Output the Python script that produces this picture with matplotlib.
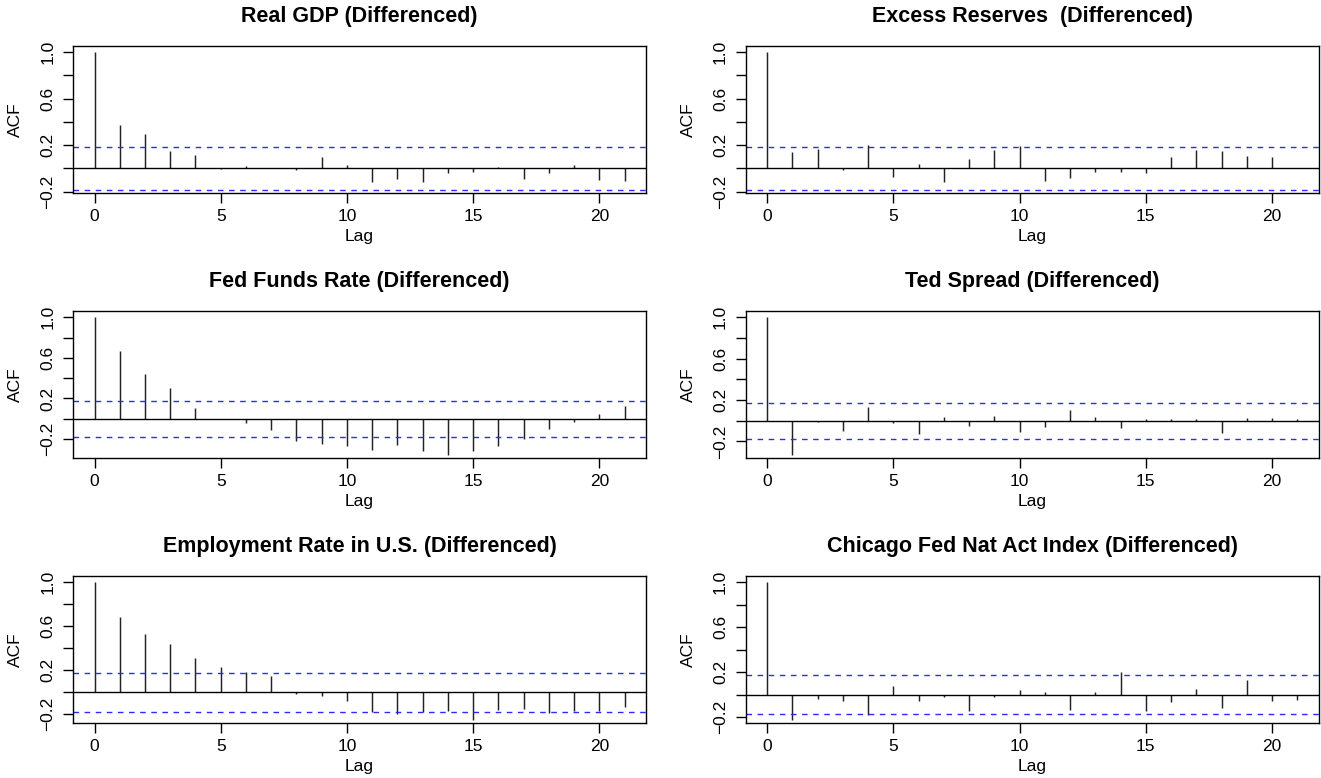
import matplotlib
matplotlib.use("Agg")
import matplotlib.pyplot as plt
import numpy as np

plt.rcParams['font.family'] = ['Liberation Sans', 'DejaVu Sans']

lags = list(range(22))

titles = [
    "Real GDP (Differenced)",
    "Excess Reserves  (Differenced)",
    "Fed Funds Rate (Differenced)",
    "Ted Spread (Differenced)",
    "Employment Rate in U.S. (Differenced)",
    "Chicago Fed Nat Act Index (Differenced)",
]

acf_gdp = [1.0, 0.377, 0.296, 0.153, 0.118, -0.005, 0.02, 0.0, -0.015, 0.095, 0.03,
           -0.12, -0.09, -0.12, -0.04, -0.03, 0.015, -0.09, -0.04, 0.03, -0.10, -0.105]
acf_reserves = [1.0, 0.138, 0.17, -0.01, 0.2, -0.07, 0.035, -0.115, 0.08, 0.155, 0.19,
                -0.105, -0.085, -0.03, -0.03, -0.035, 0.10, 0.155, 0.147, 0.105, 0.095, 0.0]
acf_fedfunds = [1.0, 0.665, 0.437, 0.30, 0.11, -0.005, -0.04, -0.11, -0.215, -0.245, -0.27,
                -0.31, -0.255, -0.32, -0.355, -0.32, -0.27, -0.20, -0.105, -0.03, 0.05, 0.125]
acf_ted = [1.0, -0.33, -0.01, -0.10, 0.13, -0.02, -0.13, 0.04, -0.05, 0.05, -0.11,
           -0.06, 0.105, 0.04, -0.07, 0.012, 0.02, 0.012, -0.12, 0.03, 0.03, 0.012]
acf_employment = [1.0, 0.687, 0.526, 0.44, 0.313, 0.231, 0.185, 0.152, -0.012, -0.03, -0.08,
                  -0.175, -0.20, -0.175, -0.17, -0.25, -0.158, -0.15, -0.19, -0.173, -0.167, -0.134]
acf_chicago = [1.0, -0.225, -0.04, -0.055, -0.18, 0.077, -0.053, -0.018, -0.142, -0.018, 0.043,
               0.024, -0.133, 0.024, 0.203, -0.142, -0.068, 0.052, -0.116, 0.13, -0.06, -0.045]

conf_limits = [0.184, 0.184, 0.178, 0.174, 0.179, 0.177]

series = [acf_gdp, acf_reserves, acf_fedfunds, acf_ted, acf_employment, acf_chicago]

W, H = 1321, 778
fig = plt.figure(figsize=(W / 100, H / 100), dpi=100)

col_left = [73.3, 746.0]
ax_w = 572.5
row_bottom = [193.3, 458.3, 723.3]
ax_h = 147.3

for i, (title, acf, conf) in enumerate(zip(titles, series, conf_limits)):
    r, c = divmod(i, 2)
    left = col_left[c] / W
    bottom = 1 - row_bottom[r] / H
    ax = fig.add_axes([left, bottom, ax_w / W, ax_h / H])

    ax.vlines(lags, 0, acf, colors='#222222', linewidth=1.05)
    ax.axhline(0, color='black', linewidth=1.0)
    ax.axhline(conf, color='#2a2aff', linestyle=(0, (4, 4)), linewidth=1.0)
    ax.axhline(-conf, color='#2a2aff', linestyle=(0, (4, 4)), linewidth=1.0)

    lo = min(-conf, min(acf))
    hi = 1.0
    rng = hi - lo
    y0, y1 = lo - 0.025 * rng, hi + 0.045 * rng
    ax.set_ylim(y0, y1)
    ax.set_xlim(-0.04 * 21, 21 * 1.04)

    yt = np.arange(-0.4, 1.01, 0.2)
    yt = [v for v in yt if y0 <= v <= y1]
    ax.set_yticks(yt)
    labels = []
    for v in yt:
        vr = round(v, 1)
        if vr in (1.0, 0.6, 0.2, -0.2):
            labels.append(f"{vr:.1f}".replace('-', '\u2212'))
        else:
            labels.append("")
    ax.set_yticklabels(labels, rotation=90, va='center')
    ax.set_xticks([0, 5, 10, 15, 20])
    ax.tick_params(axis='both', direction='out', length=7, width=1.0,
                   labelsize=12.5, colors='black')
    ax.tick_params(axis='y', pad=6)
    ax.tick_params(axis='x', pad=4)

    for s in ax.spines.values():
        s.set_linewidth(1.0)
        s.set_color('black')

    ax.set_xlabel("Lag", fontsize=12.5)
    ax.set_ylabel("ACF", fontsize=12.5)
    ax.xaxis.set_label_coords(0.5, -0.245)
    ax.yaxis.set_label_coords(-0.088, 0.5)
    ax.set_title(title, fontsize=15.5, fontweight='bold', pad=17)

fig.savefig("out.png", dpi=100)
